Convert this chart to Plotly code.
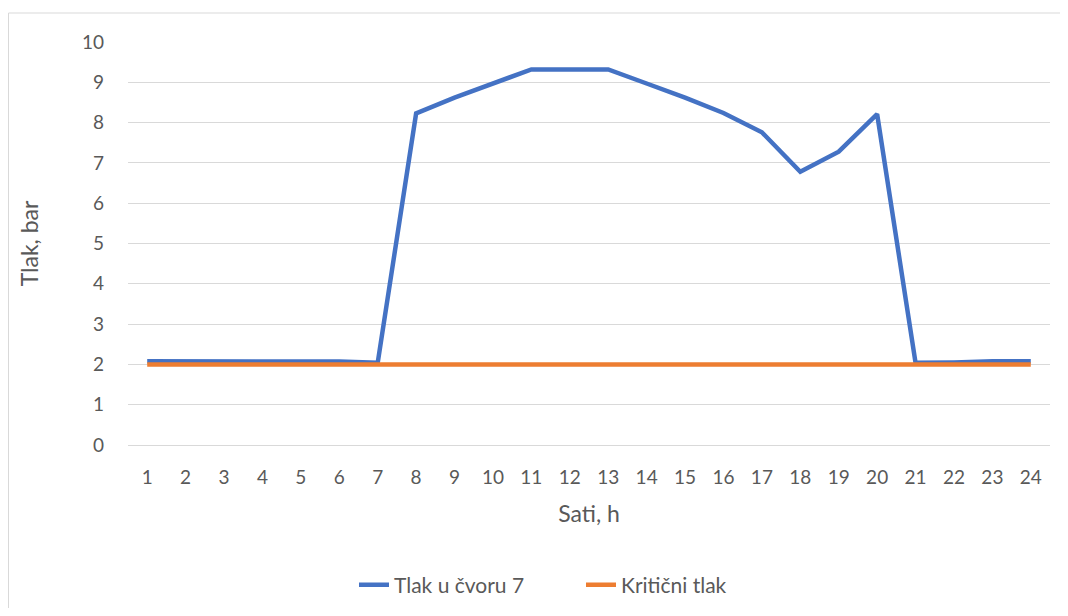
import plotly.graph_objects as go

hours = [str(h) for h in range(1, 25)]
tlak_cvor7 = [2.08, 2.08, 2.08, 2.08, 2.08, 2.07, 2.04, 8.23, 8.62, 8.98, 9.32, 9.32,
              9.32, 8.97, 8.62, 8.24, 7.76, 6.78, 7.28, 8.21, 2.04, 2.05, 2.08, 2.08]
kriticni_tlak = [2.0] * 24
y_ticks = list(range(0, 11))

OFF = 8  # browser body margin
W, H = 1068 - 2 * OFF, 616 - 2 * OFF
L, T = 128 - OFF, 42 - OFF
R = W - (1050 - OFF)
B = H - (445 - OFF)
pw, ph = W - L - R, H - T - B

font_fam = "Lato, 'Open Sans', 'Liberation Sans', sans-serif"
gray = "#595959"

fig = go.Figure()
fig.add_trace(go.Scatter(x=hours, y=tlak_cvor7, mode="lines", name="Tlak u čvoru 7",
                         line=dict(color="#4472C4", width=4.5)))
fig.add_trace(go.Scatter(x=hours, y=kriticni_tlak, mode="lines", name="Kritični tlak",
                         line=dict(color="#ED7D31", width=4.5)))

fig.update_layout(
    width=W, height=H,
    margin=dict(l=L, r=R, t=T, b=B, autoexpand=False),
    paper_bgcolor="white", plot_bgcolor="white",
    font=dict(family=font_fam, color=gray, size=19),
    showlegend=True,
    legend=dict(orientation="h", x=(354 - 128) / pw, xanchor="left", xref="paper",
                yref="container", y=1 - (585 - OFF) / H,
                entrywidth=182, entrywidthmode="pixels",
                yanchor="middle", font=dict(size=21, color=gray)),
    xaxis=dict(type="category", range=[-0.5, 23.5], showgrid=False, showline=True,
               automargin=False,
               linecolor="#D9D9D9", linewidth=1, ticks="", ticklabelstandoff=15,
               tickfont=dict(size=19, color=gray),
               title=dict(text="Sati, h", font=dict(size=23, color=gray), standoff=19)),
    yaxis=dict(range=[0, 10], tickvals=y_ticks, showgrid=True, gridcolor="#D9D9D9",
               automargin=False,
               gridwidth=1, zeroline=False, showline=False, ticks="",
               tickfont=dict(size=19, color=gray), ticklabelstandoff=23,
               title=dict(text="Tlak, bar", font=dict(size=23, color=gray), standoff=36)),
    shapes=[dict(type="rect", xref="paper", yref="paper",
                 x0=(0.5 - L) / pw, x1=(1065 - OFF - L) / pw,
                 y0=(T + ph - (615 - OFF)) / ph, y1=(T + ph - (13 - OFF)) / ph,
                 line=dict(color="#D9D9D9", width=1), fillcolor="rgba(0,0,0,0)", layer="below")],
)

fig.write_html("out.html")
